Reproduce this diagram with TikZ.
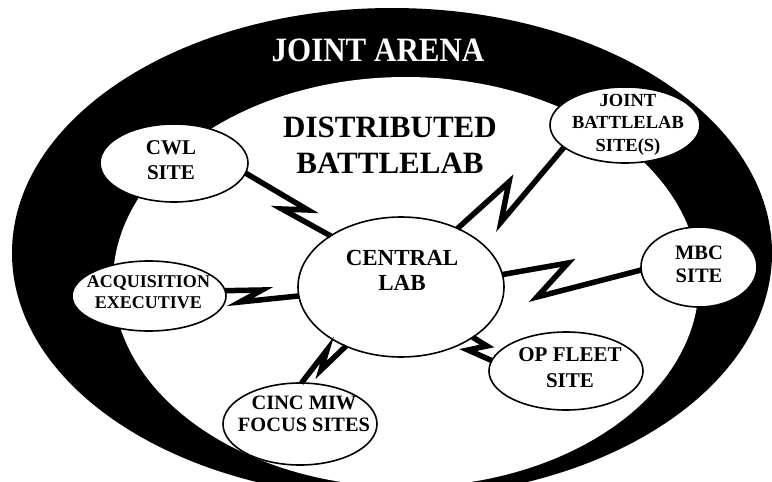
\documentclass[tikz,border=0pt]{standalone}
\usepackage{fontspec}
\setmainfont{Liberation Serif}
\usetikzlibrary{shapes.geometric}
\begin{document}
\begin{tikzpicture}[x=1pt,y=-1pt,
  site/.style={ellipse, draw=black, fill=white, line width=1.6pt, inner sep=0pt, outer sep=0pt},
  sitetext/.style={align=center, inner sep=0pt, text=black},
  bolt/.style={line width=5.5pt, line join=miter, draw=black},
  bigtext/.style={align=center, inner sep=0pt, font=\bfseries\fontsize{31pt}{36pt}\selectfont}]
\useasboundingbox (0,0) rectangle (772,482);
\clip (0,0) rectangle (772,482);
% arena ring
\fill[black] (392,253) ellipse [x radius=380pt, y radius=245pt];
\fill[white] (406,282) ellipse [x radius=293pt, y radius=205pt];
\node[bigtext, text=white] (arena) at (378,50.5) {\scalebox{1}[1.1]{JOINT ARENA}};
\node[bigtext] (dist) at (390,144.8) {DISTRIBUTED\\BATTLELAB};
% sites
\node[site, minimum width=206pt, minimum height=140pt] (central) at (401,287) {};
\node[sitetext, font=\bfseries\fontsize{23pt}{25pt}\selectfont] (centraltxt) at (402,270) {CENTRAL\\LAB};
\node[site, minimum width=148pt, minimum height=78pt] (cwl) at (174,163) {};
\node[sitetext, font=\bfseries\fontsize{21pt}{25pt}\selectfont] (cwltxt) at (171,160.6) {CWL\\SITE};
\node[site, minimum width=150pt, minimum height=76pt] (joint) at (625,125) {};
\node[sitetext, font=\bfseries\fontsize{18.5pt}{22.5pt}\selectfont] (jointtxt) at (628,124.5) {JOINT\\BATTLELAB\\SITE(S)};
\node[site, minimum width=116pt, minimum height=80pt] (mbc) at (699,267) {};
\node[sitetext, font=\bfseries\fontsize{20.5pt}{23pt}\selectfont] (mbctxt) at (699,264.8) {MBC\\SITE};
\node[site, minimum width=154pt, minimum height=70pt] (acq) at (149,296) {};
\node[sitetext, font=\bfseries\fontsize{18pt}{21pt}\selectfont] (acqtxt) at (148.5,292) {ACQUISITION\\EXECUTIVE};
\node[site, minimum width=154pt, minimum height=78pt] (op) at (566,371) {};
\node[sitetext, font=\bfseries\fontsize{21pt}{26pt}\selectfont] (optxt) at (570,368) {OP FLEET\\SITE};
\node[site, minimum width=154pt, minimum height=82pt] (cinc) at (300,424) {};
\node[sitetext, font=\bfseries\fontsize{20.4pt}{22pt}\selectfont] (cinctxt) at (304,414.3) {CINC MIW\\FOCUS SITES};
% lightning connectors
\draw[bolt] (cwl.-8) -- (308,210) -- (282,209) -- (central.144);
\draw[bolt] (central.46) -- (509,182) -- (501,222) -- (joint.200);
\draw[bolt] (central.7) -- (568,263) -- (537,297) -- (mbc.183);
\draw[bolt] (acq.4) -- (262,290) -- (240,302) -- (central.185);
\draw[bolt] (central.-35) -- (487,346) -- (468,350) -- (op.172);
\draw[bolt] (cinc.88) -- (327,350) -- (321,370) -- (central.227);
\end{tikzpicture}
\end{document}
